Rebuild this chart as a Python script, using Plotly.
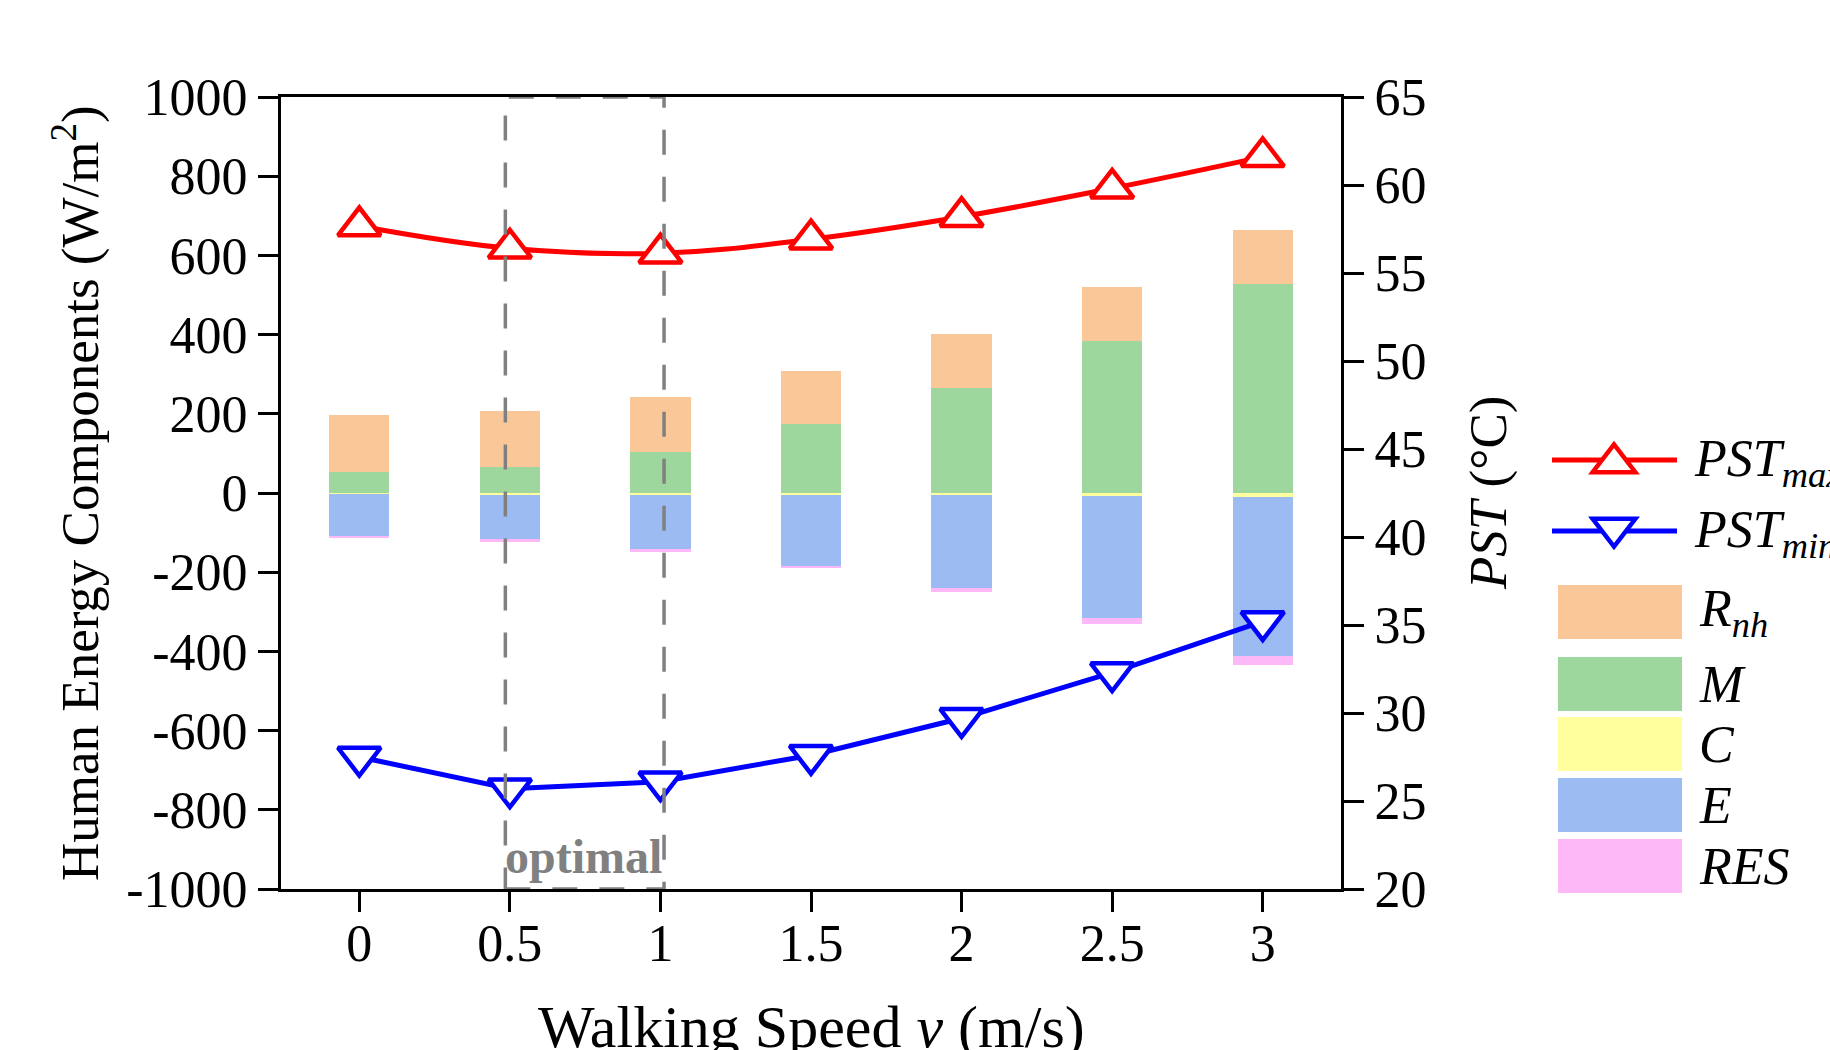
import plotly.graph_objects as go

# ---------------- data ----------------
speed = [0, 0.5, 1, 1.5, 2, 2.5, 3]
speed_tick_labels = ["0", "0.5", "1", "1.5", "2", "2.5", "3"]

R_nh = [144, 141, 139, 136, 136, 136, 137]
M = [54, 66, 104, 173, 266, 385, 528]
C = [-3, -4, -5, -5, -6, -7, -10]
E = [-107, -114, -138, -179, -233, -308, -401]
RES = [-3, -5, -5, -6, -12, -17, -24]

PST_max = [57.67, 56.4, 56.12, 56.92, 58.2, 59.81, 61.6]
PST_min = [27.5, 25.7, 26.1, 27.6, 29.7, 32.3, 35.2]

energy_ticks = [-1000, -800, -600, -400, -200, 0, 200, 400, 600, 800, 1000]
energy_tick_labels = ["-1000", "-800", "-600", "-400", "-200", "0", "200", "400", "600", "800", "1000"]
pst_ticks = [20, 25, 30, 35, 40, 45, 50, 55, 60, 65]
pst_tick_labels = ["20", "25", "30", "35", "40", "45", "50", "55", "60", "65"]

optimal_range = [0.485, 1.012]

# ---------------- style ----------------
FONT = "Liberation Serif, Times New Roman, serif"
COL_RNH = "#FAC898"
COL_M = "#9ED79D"
COL_C = "#FFFF9E"
COL_E = "#9BBBF2"
COL_RES = "#FCB8F7"
GRAY = "#808080"

FIG_W, FIG_H = 1830, 1050
L, R, T, B = 281, 1341, 97, 889
PW, PH = R - L, B - T

MARKER_SIZE = 37
LINE_W = 5
MARKER_LW = 4.5


def px_x(p):
    return (p - L) / PW


def px_y(p):
    return (B - p) / PH


fig = go.Figure()

bar_w = 0.2
for name, vals, col in [("M", M, COL_M), ("R_nh", R_nh, COL_RNH), ("C", C, COL_C),
                        ("E", E, COL_E), ("RES", RES, COL_RES)]:
    fig.add_trace(go.Bar(x=speed, y=vals, width=bar_w, name=name,
                         marker=dict(color=col, line=dict(width=0)),
                         showlegend=False, yaxis="y"))

fig.add_trace(go.Scatter(x=speed, y=PST_max, yaxis="y2", mode="lines+markers",
                         line=dict(color="red", width=LINE_W, shape="spline", smoothing=1.1),
                         marker=dict(symbol="triangle-up", size=MARKER_SIZE, color="white",
                                     line=dict(color="red", width=MARKER_LW)),
                         showlegend=False, name="PST_max"))
fig.add_trace(go.Scatter(x=speed, y=PST_min, yaxis="y2", mode="lines+markers",
                         line=dict(color="blue", width=LINE_W),
                         marker=dict(symbol="triangle-down", size=MARKER_SIZE, color="white",
                                     line=dict(color="blue", width=MARKER_LW)),
                         showlegend=False, name="PST_min"))

axis_common = dict(showgrid=False, zeroline=False, showline=True, linecolor="black",
                   linewidth=3, ticks="outside", ticklen=20, tickwidth=3, tickcolor="black",
                   tickfont=dict(family=FONT, size=52, color="black"))

fig.update_layout(
    width=FIG_W, height=FIG_H,
    margin=dict(l=L, r=FIG_W - R, t=T, b=FIG_H - B, pad=0),
    paper_bgcolor="white", plot_bgcolor="white",
    barmode="relative", bargap=0,
    xaxis=dict(range=[-0.26, 3.26], tickvals=speed, ticktext=speed_tick_labels,
               mirror=True, ticklabelstandoff=-13, **axis_common),
    yaxis=dict(range=[-1000, 1000], tickvals=energy_ticks, ticktext=energy_tick_labels,
               **axis_common),
    yaxis2=dict(range=[20, 65], tickvals=pst_ticks, ticktext=pst_tick_labels,
                overlaying="y", side="right", **axis_common),
    font=dict(family=FONT, color="black"),
)

shapes = []
annotations = []

# optimal dashed box
shapes.append(dict(type="rect", xref="x", yref="y", x0=optimal_range[0], x1=optimal_range[1],
                   y0=-1000, y1=1000, line=dict(color=GRAY, width=3.5, dash="25px,22px"),
                   fillcolor="rgba(0,0,0,0)", layer="above"))
annotations.append(dict(x=(optimal_range[0] + optimal_range[1]) / 2 - 0.005, y=-918, xref="x", yref="y",
                        text="<b>optimal</b>", showarrow=False, xanchor="center", yanchor="middle",
                        font=dict(family=FONT, size=48, color=GRAY)))

# axis titles
annotations.append(dict(x=px_x(76), y=0.5, xref="paper", yref="paper", textangle=-90,
                        text="Human Energy Components (W/m<sup>2</sup>)", showarrow=False,
                        xanchor="center", yanchor="middle",
                        font=dict(family=FONT, size=53, color="black")))
annotations.append(dict(x=px_x(1488), y=0.5, xref="paper", yref="paper", textangle=-90,
                        text="<i>PST</i> (°C)", showarrow=False,
                        xanchor="center", yanchor="middle",
                        font=dict(family=FONT, size=53, color="black")))
annotations.append(dict(x=0.5, y=px_y(1027), xref="paper", yref="paper",
                        text="Walking Speed <i>v</i> (m/s)", showarrow=False,
                        xanchor="center", yanchor="middle",
                        font=dict(family=FONT, size=60, color="black")))


# manual legend
def tri_path(cx, cy, r, up=True):
    rt = r * 2 / 3 ** 0.5
    if up:
        pts = [(cx - rt, cy + r / 2), (cx + rt, cy + r / 2), (cx, cy - r)]
    else:
        pts = [(cx - rt, cy - r / 2), (cx + rt, cy - r / 2), (cx, cy + r)]
    return "M " + " L ".join(f"{px_x(a):.5f},{px_y(b):.5f}" for a, b in pts) + " Z"


for cy, col, up, sub in [(460, "red", True, "max"), (531, "blue", False, "min")]:
    shapes.append(dict(type="line", xref="paper", yref="paper", x0=px_x(1552), x1=px_x(1677),
                       y0=px_y(cy), y1=px_y(cy), line=dict(color=col, width=LINE_W)))
    shapes.append(dict(type="path", xref="paper", yref="paper",
                       path=tri_path(1614, cy + (3 if up else -3), MARKER_SIZE / 2, up),
                       fillcolor="white", line=dict(color=col, width=MARKER_LW)))
    annotations.append(dict(x=px_x(1692), y=px_y(cy + 2), xref="paper", yref="paper",
                            text=f"<i>PST</i><sub><i>{sub}</i></sub>", showarrow=False,
                            xanchor="left", yanchor="middle",
                            font=dict(family=FONT, size=52, color="black")))

for (y0, y1), col, label in [((585, 639), COL_RNH, "<i>R</i><sub><i>nh</i></sub>"),
                             ((657, 711), COL_M, "<i>M</i>"),
                             ((717, 771), COL_C, "<i>C</i>"),
                             ((778, 832), COL_E, "<i>E</i>"),
                             ((839, 893), COL_RES, "<i>RES</i>")]:
    shapes.append(dict(type="rect", xref="paper", yref="paper", x0=px_x(1558), x1=px_x(1682),
                       y0=px_y(y1), y1=px_y(y0), fillcolor=col, line=dict(width=0)))
    annotations.append(dict(x=px_x(1697), y=px_y((y0 + y1) / 2), xref="paper", yref="paper",
                            text=label, showarrow=False, xanchor="left", yanchor="middle",
                            font=dict(family=FONT, size=52, color="black")))

fig.update_layout(shapes=shapes, annotations=annotations)

fig.write_html("out.html", config={"displayModeBar": False},
               post_script="document.body.style.margin='0';")
